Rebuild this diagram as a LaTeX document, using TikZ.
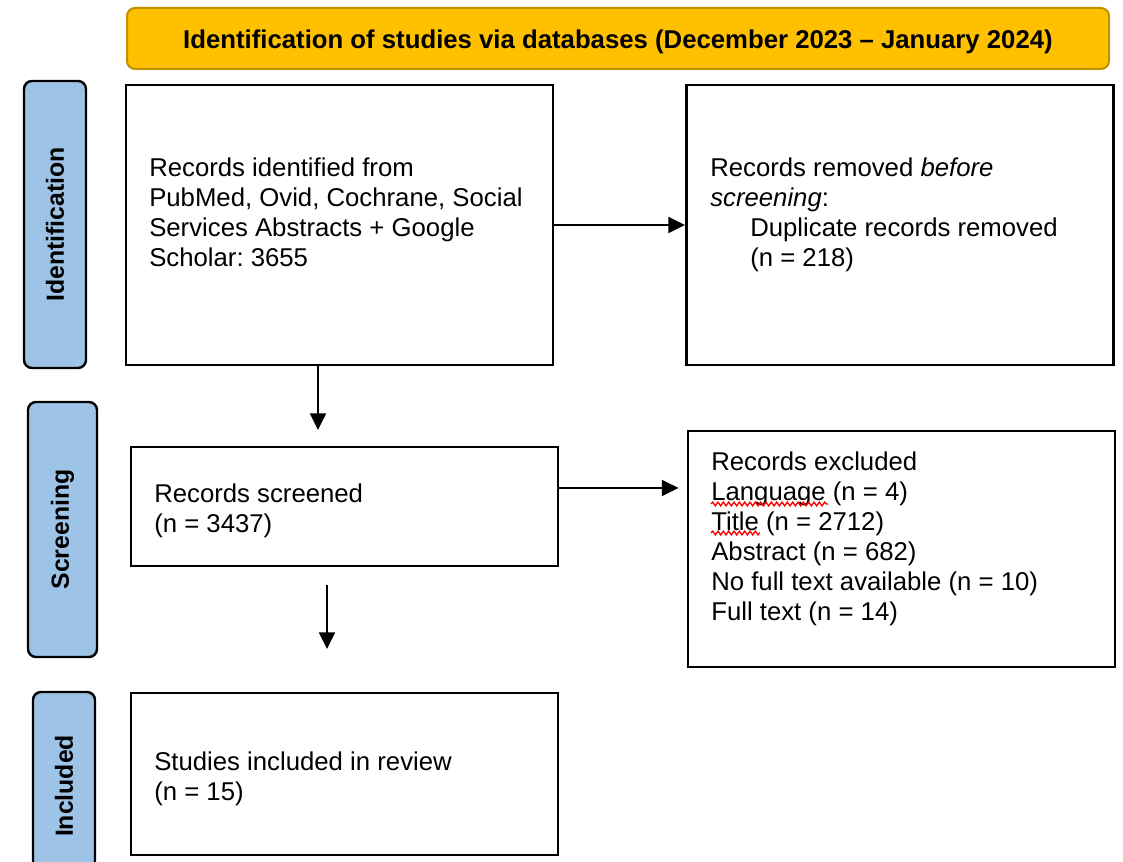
\documentclass[tikz,border=0pt]{standalone}
\usepackage{fontspec}
\setmainfont{Liberation Sans}
\usepackage{tikz}
\usetikzlibrary{arrows.meta,decorations.pathmorphing}
\frenchspacing

\definecolor{bannergold}{HTML}{FFC000}
\definecolor{bannerrim}{HTML}{BF9000}
\definecolor{phaseblue}{HTML}{9DC3E6}

\begin{document}
\begin{tikzpicture}[x=0.75pt,y=-0.75pt,
  box/.style={draw,line width=2.2pt,minimum width=320.25pt,inner sep=0pt},
  txt/.style={anchor=north west,align=left,inner sep=0pt,font=\fontsize{19.3}{22.5}\selectfont},
  phase/.style={draw,line width=1.8pt,fill=phaseblue,rounded corners=6pt,rotate=90,inner sep=0pt,font=\bfseries\fontsize{18.6}{22}\selectfont},
  arr/.style={line width=1.3pt,-{Triangle[length=12.5pt,width=12pt]}},
  spell/.style={red,line width=1pt,decorate,decoration={snake,amplitude=1.4pt,segment length=4pt}}]

  \useasboundingbox (0,0) rectangle (1123,862);
  \clip (0,0) rectangle (1123,862);

  % Banner
  \node[draw=bannerrim,line width=1.5pt,fill=bannergold,rounded corners=6pt,minimum width=736.5pt,minimum height=45.75pt,text height=16pt,text depth=1.5pt,font=\bfseries\fontsize{19.3}{22}\selectfont] (banner) at (618,38.5) {Identification of studies via databases (December 2023 – January 2024)};

  % Phase labels
  \node[phase,minimum width=215.25pt,minimum height=46.5pt] (identlab) at (55,224.5) {Identification};
  \node[phase,minimum width=191.25pt,minimum height=51.75pt] (screenlab) at (62.5,529.5) {Screening};
  \node[phase,minimum width=141pt,minimum height=46.5pt] (inclab) at (64,786) {Included};

  % Boxes
  \node[box,minimum height=210pt] (found) at (339.5,225) {};
  \node[box,minimum height=210pt] (dups) at (900,225) {};
  \node[box,minimum height=89.25pt] (screened) at (344.5,506.5) {};
  \node[box,minimum height=177pt] (excluded) at (901.5,549) {};
  \node[box,minimum height=121.5pt] (incl) at (344.5,774) {};

  % Texts
  \node[txt] (foundtxt) at (149,158) {Records identified from\\PubMed, Ovid, Cochrane, Social\\Services Abstracts + Google\\Scholar: 3655};
  \node[txt] (dupstxt) at (710,158) {Records removed \textit{before}\\\textit{screening}:\\\hspace*{30pt}Duplicate records removed\\\hspace*{30pt}(n = 218)};
  \node[txt] (screenedtxt) at (154,484) {Records screened\\(n = 3437)};
  \node[txt] (excludedtxt) at (711,452) {Records excluded\\Language (n = 4)\\Title (n = 2712)\\Abstract (n = 682)\\No full text available (n = 10)\\Full text (n = 14)};
  \node[txt] (incltxt) at (154,752) {Studies included in review\\(n = 15)};

  % Spelling marks
  \draw[spell] (711,504) -- (828,504);
  \draw[spell] (711,533) -- (760,533);

  % Connectors
  \draw[arr] (found.east) -- (dups.west);
  \coordinate (screenout) at ([yshift=13.9pt]screened.east);
  \coordinate (excin) at ([xshift=-6pt]excluded.west);
  \draw[arr] (screenout) -- (excin |- screenout);
  \coordinate (down1) at (318,430);
  \draw[arr] (found.south -| down1) -- (down1);
  \coordinate (down2a) at (327,585);
  \coordinate (down2b) at (327,649);
  \draw[arr] (down2a) -- (down2b);
\end{tikzpicture}
\end{document}
